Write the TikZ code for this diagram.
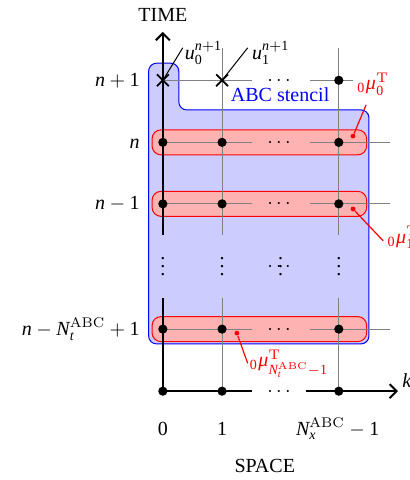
\documentclass[tikz,border=0pt]{standalone}
\usepackage{amsmath}
\usepackage{mathspec}
\setmainfont{Liberation Serif}
\setmathsfont(Digits,Latin,Greek){Liberation Serif}
\usetikzlibrary{arrows.meta, positioning, shapes.misc}

\begin{document}
\begin{tikzpicture}[
        grid_line/.style={
            draw=gray,
            line width=0.5pt
        },
        axis_line/.style={
            draw=black,
            line width=1pt
        },
        axis_arrow/.style={
            axis_line,
            -{Straight Barb[length=3.5pt, width=7pt]}
        },
        grid_dot/.style={
            circle,
            fill=black,
            inner sep=0pt,
            minimum size=4.6pt
        },
        red_dot/.style={
            circle,
            fill=red,
            inner sep=0pt,
            minimum size=2.4pt
        },
        cross_mark/.style={
            cross out,
            draw=black,
            line width=0.9pt,
            inner sep=0pt,
            minimum size=5pt
        },
        abc_region/.style={
            draw=blue,
            fill=blue!20,
            line width=0.5pt,
            rounded corners=4pt
        },
        row_band/.style={
            rectangle,
            draw=red,
            fill=red!30,
            line width=0.5pt,
            rounded corners=4.5pt,
            minimum width=3.77cm,
            minimum height=0.44cm
        },
        row_label/.style={
            anchor=base east,
            inner sep=0pt,
            yshift=-3pt
        },
        col_label/.style={
            anchor=base,
            inner sep=0pt
        },
        mu_label/.style={
            text=red,
            anchor=base west,
            inner sep=0pt
        },
        mu_line/.style={
            draw=red,
            line width=0.6pt
        },
        tag_line/.style={
            draw=black,
            line width=0.5pt
        },
        h_dots/.style={
            anchor=base,
            inner sep=0pt,
            yshift=-2.5pt
        },
        v_dots/.style={
            anchor=base,
            inner sep=0pt,
            yshift=-4.5pt
        }
    ]
        \useasboundingbox (-2.86,-1.56) rectangle (4.34,6.87);

        % stencil region and the rows that go with it
        \draw[abc_region] (1.5,0.83) -- (-0.25,0.83) -- (-0.25,5.76) -- (0.28,5.76)
            -- (0.28,4.94) -- (3.62,4.94) -- (3.62,0.83) -- cycle;
        \node[text=blue, anchor=base] (stencil) at (2.06,5.08) {ABC stencil};
        \node[row_band] (band_n) at (1.695,4.37) {};
        \node[row_band] (band_nm1) at (1.695,3.29) {};
        \node[row_band] (band_last) at (1.695,1.09) {};

        % grid
        \draw[grid_line] (0,5.46) -- (1.56,5.46) (2.58,5.46) -- (3.34,5.46);
        \draw[grid_line] (0,4.37) -- (1.56,4.37) (2.58,4.37) -- (3.99,4.37);
        \draw[grid_line] (0,3.29) -- (1.56,3.29) (2.58,3.29) -- (3.99,3.29);
        \draw[grid_line] (0,1.09) -- (1.56,1.09) (2.58,1.09) -- (3.99,1.09);
        \draw[grid_line] (1.04,0) -- (1.04,1.63) (1.04,2.74) -- (1.04,6.03);
        \draw[grid_line] (3.09,0) -- (3.09,1.63) (3.09,2.74) -- (3.09,6.03);

        % axes
        \coordinate (origin) at (0,0);
        \coordinate (time_top) at (0,6.31);
        \coordinate (space_end) at (4.13,0);
        \draw[axis_line] (origin) -- (0,1.63);
        \draw[axis_arrow] (0,2.74) -- (time_top);
        \draw[axis_line] (origin) -- (1.56,0);
        \draw[axis_arrow] (2.51,0) -- (space_end);
        \node[above=1.5pt of time_top] (time_label) {TIME};
        \node[anchor=base west, inner sep=0pt] (k_label) at (4.20,0.07) {$k$};

        % unknowns at n+1
        \node[cross_mark] (u_np1_0) at (0,5.46) {};
        \node[cross_mark] (u_np1_1) at (1.04,5.46) {};
        \node[grid_dot] (u_np1_last) at (3.09,5.46) {};
        \coordinate (tag_u0) at (0.35,6.03);
        \coordinate (tag_u1) at (1.49,6.03);
        \draw[tag_line] (u_np1_0.center) -- (tag_u0);
        \draw[tag_line] (u_np1_1.center) -- (tag_u1);
        \node[anchor=base west, inner sep=0pt] (lbl_u0) at (0.38,5.83) {$u_0^{n+1}$};
        \node[anchor=base west, inner sep=0pt] (lbl_u1) at (1.56,5.83) {$u_1^{n+1}$};

        % known values
        \node[grid_dot] (u_n_0) at (0,4.37) {};
        \node[grid_dot] (u_n_1) at (1.04,4.37) {};
        \node[grid_dot] (u_n_last) at (3.09,4.37) {};
        \node[grid_dot] (u_nm1_0) at (0,3.29) {};
        \node[grid_dot] (u_nm1_1) at (1.04,3.29) {};
        \node[grid_dot] (u_nm1_last) at (3.09,3.29) {};
        \node[grid_dot] (u_first_0) at (0,1.09) {};
        \node[grid_dot] (u_first_1) at (1.04,1.09) {};
        \node[grid_dot] (u_first_last) at (3.09,1.09) {};
        \node[grid_dot] (x_0) at (0,0) {};
        \node[grid_dot] (x_1) at (1.04,0) {};
        \node[grid_dot] (x_last) at (3.09,0) {};

        % dots
        \node[h_dots] (hdots_np1) at (2.07,5.46) {$\cdots$};
        \node[h_dots] (hdots_n) at (2.07,4.37) {$\cdots$};
        \node[h_dots] (hdots_nm1) at (2.07,3.29) {$\cdots$};
        \node[h_dots] (hdots_first) at (2.07,1.09) {$\cdots$};
        \node[h_dots] (hdots_x) at (2.07,0) {$\cdots$};
        \node[v_dots] (vdots_0) at (0,2.19) {$\vdots$};
        \node[v_dots] (vdots_1) at (1.04,2.19) {$\vdots$};
        \node[v_dots] (vdots_mid) at (2.07,2.19) {$\vdots$};
        \node[h_dots] (cdots_mid) at (2.07,2.19) {$\cdots$};
        \node[v_dots] (vdots_last) at (3.09,2.19) {$\vdots$};

        % multipliers
        \node[red_dot] (mu_dot_n) at (3.34,4.48) {};
        \coordinate (mu_tip_n) at (3.57,5.03);
        \draw[mu_line] (mu_dot_n) -- (mu_tip_n);
        \node[mu_label] (mu_n) at (3.41,5.29) {${}_0\mu_0^{\mathrm{T}}$};
        \node[red_dot] (mu_dot_nm1) at (3.34,3.20) {};
        \coordinate (mu_tip_nm1) at (3.87,2.64);
        \draw[mu_line] (mu_dot_nm1) -- (mu_tip_nm1);
        \node[mu_label] (mu_nm1) at (3.94,2.60) {${}_0\mu_1^{\mathrm{T}}$};
        \node[red_dot] (mu_dot_first) at (1.30,1.02) {};
        \coordinate (mu_tip_first) at (1.49,0.49);
        \draw[mu_line] (mu_dot_first) -- (mu_tip_first);
        \node[mu_label] (mu_first) at (1.52,0.43) {${}_0\mu^{\mathrm{T}}_{N_t^{\mathrm{ABC}}-1}$};

        % labels
        \node[row_label] (lbl_np1) at (-0.40,5.46) {$n+1$};
        \node[row_label] (lbl_n) at (-0.40,4.37) {$n$};
        \node[row_label] (lbl_nm1) at (-0.40,3.29) {$n-1$};
        \node[row_label] (lbl_first) at (-0.40,1.09) {$n-N_t^{\mathrm{ABC}}+1$};
        \node[col_label] (lbl_x0) at (0,-0.77) {$0$};
        \node[col_label] (lbl_x1) at (1.04,-0.77) {$1$};
        \node[col_label] (lbl_xlast) at (3.07,-0.77) {$N_x^{\mathrm{ABC}}-1$};
        \node[col_label] (space_label) at (1.79,-1.42) {SPACE};
    \end{tikzpicture}
\end{document}
